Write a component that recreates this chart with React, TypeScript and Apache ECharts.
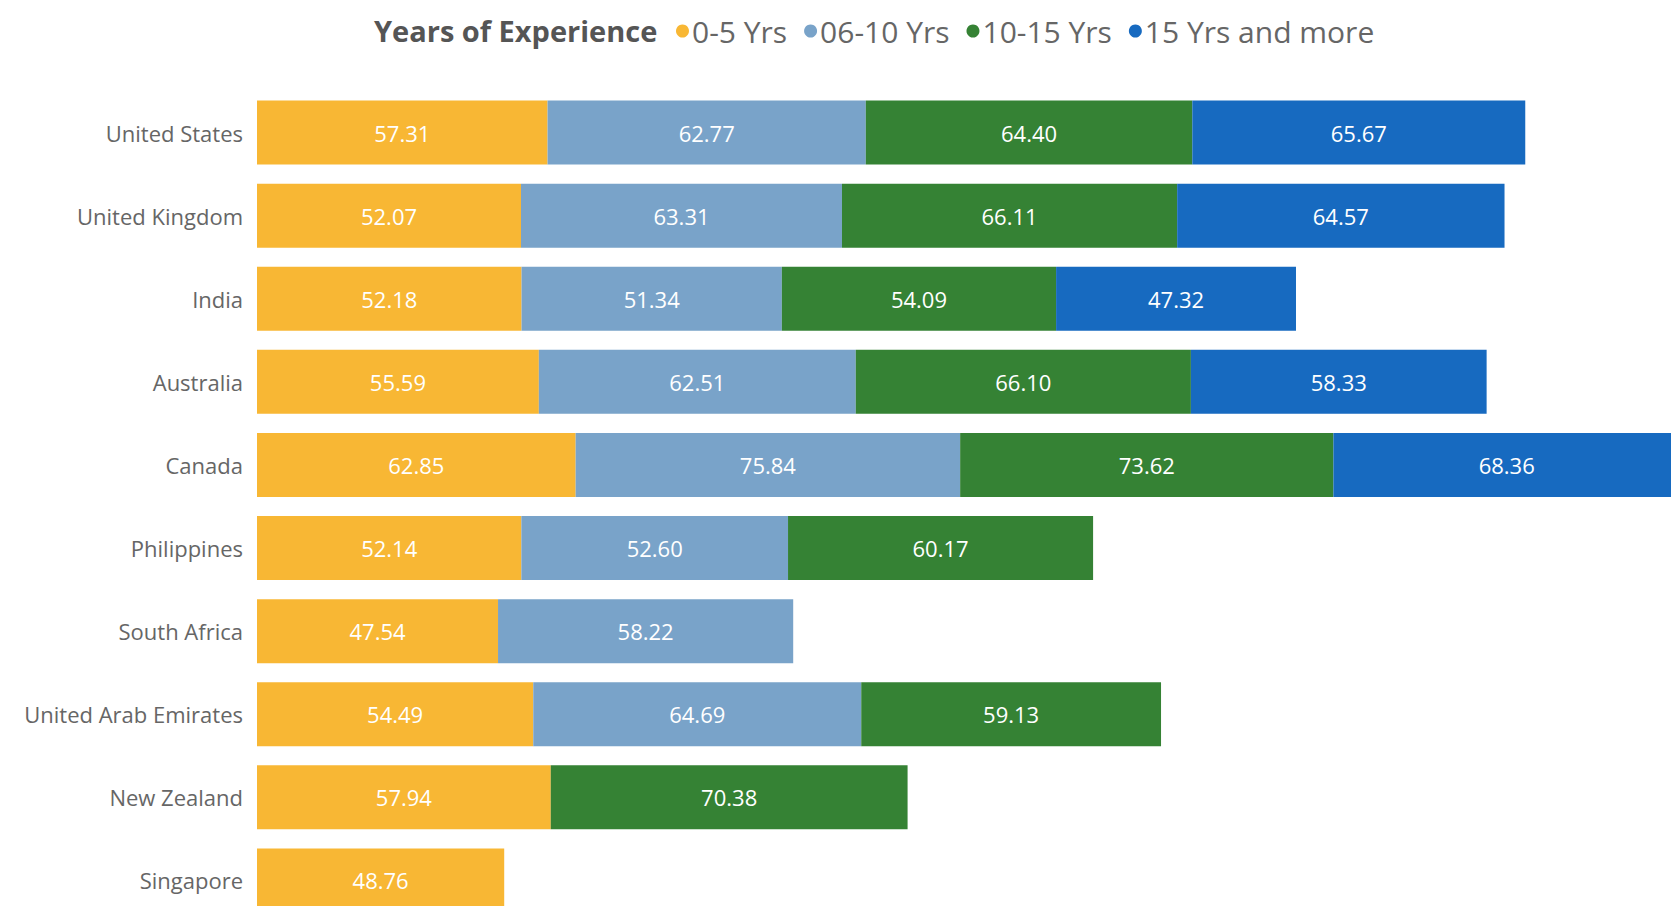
import React, { useEffect, useRef } from "react";
import * as echarts from "echarts";

const countries = [
  "United States",
  "United Kingdom",
  "India",
  "Australia",
  "Canada",
  "Philippines",
  "South Africa",
  "United Arab Emirates",
  "New Zealand",
  "Singapore",
];

const seriesNames = ["0-5 Yrs", "06-10 Yrs", "10-15 Yrs", "15 Yrs and more"];

const yrs0to5 = [57.31, 52.07, 52.18, 55.59, 62.85, 52.14, 47.54, 54.49, 57.94, 48.76];
const yrs6to10 = [62.77, 63.31, 51.34, 62.51, 75.84, 52.6, 58.22, 64.69, null, null];
const yrs10to15 = [64.4, 66.11, 54.09, 66.1, 73.62, 60.17, null, 59.13, 70.38, null];
const yrs15plus = [65.67, 64.57, 47.32, 58.33, 68.36, null, null, null, null, null];

const colors = ["#F8B734", "#79A3C9", "#358234", "#176AC0"];

const FONT = "'Open Sans', 'Noto Sans', sans-serif";

const CANVAS_W = 1800;
const CANVAS_H = 980;

export default function App() {
  const ref = useRef<HTMLDivElement>(null);

  useEffect(() => {
    document.body.style.overflow = "hidden";
    if (!ref.current) return;
    const chart = echarts.init(ref.current, null, { renderer: "svg" });
    const values = [yrs0to5, yrs6to10, yrs10to15, yrs15plus];
    const xMax = 300;
    const pxPerUnit = 5.07;
    const gridLeft = 257;
    const gridWidth = xMax * pxPerUnit;
    const gridTop = 91;
    const gridHeight = 831;
    chart.setOption({
      animation: false,
      backgroundColor: "#ffffff",
      title: {
        text: "Years of Experience",
        left: 369,
        top: 11,
        textStyle: {
          fontFamily: FONT,
          fontSize: 29,
          fontWeight: "bold",
          color: "#555555",
        },
      },
      legend: {
        data: seriesNames,
        left: 671,
        top: 11,
        icon: "circle",
        itemWidth: 13,
        itemHeight: 13,
        itemGap: 17,
        textStyle: {
          fontFamily: FONT,
          fontSize: 30,
          color: "#666666",
          padding: [0, 0, 0, -2],
        },
      },
      grid: {
        left: gridLeft,
        right: CANVAS_W - gridLeft - gridWidth,
        top: gridTop,
        bottom: CANVAS_H - gridTop - gridHeight,
        containLabel: false,
      },
      xAxis: {
        type: "value",
        min: 0,
        max: xMax,
        show: false,
        splitLine: { show: false },
      },
      yAxis: {
        type: "category",
        data: countries,
        inverse: true,
        axisLine: { show: false },
        axisTick: { show: false },
        axisLabel: {
          fontFamily: FONT,
          fontSize: 22,
          color: "#666666",
          margin: 14,
        },
      },
      series: seriesNames.map((name, i) => ({
        name,
        type: "bar",
        stack: "total",
        data: values[i],
        barCategoryGap: "23%",
        itemStyle: { color: colors[i] },
        label: {
          show: true,
          position: "inside",
          fontFamily: FONT,
          fontSize: 22,
          color: "#ffffff",
          formatter: (p: any) =>
            p.value == null ? "" : Number(p.value).toFixed(2),
        },
        emphasis: { disabled: true },
      })),
    });
    return () => chart.dispose();
  }, []);

  return (
    <div
      ref={ref}
      style={{
        position: "fixed",
        left: 0,
        top: 0,
        width: CANVAS_W,
        height: CANVAS_H,
      }}
    />
  );
}
